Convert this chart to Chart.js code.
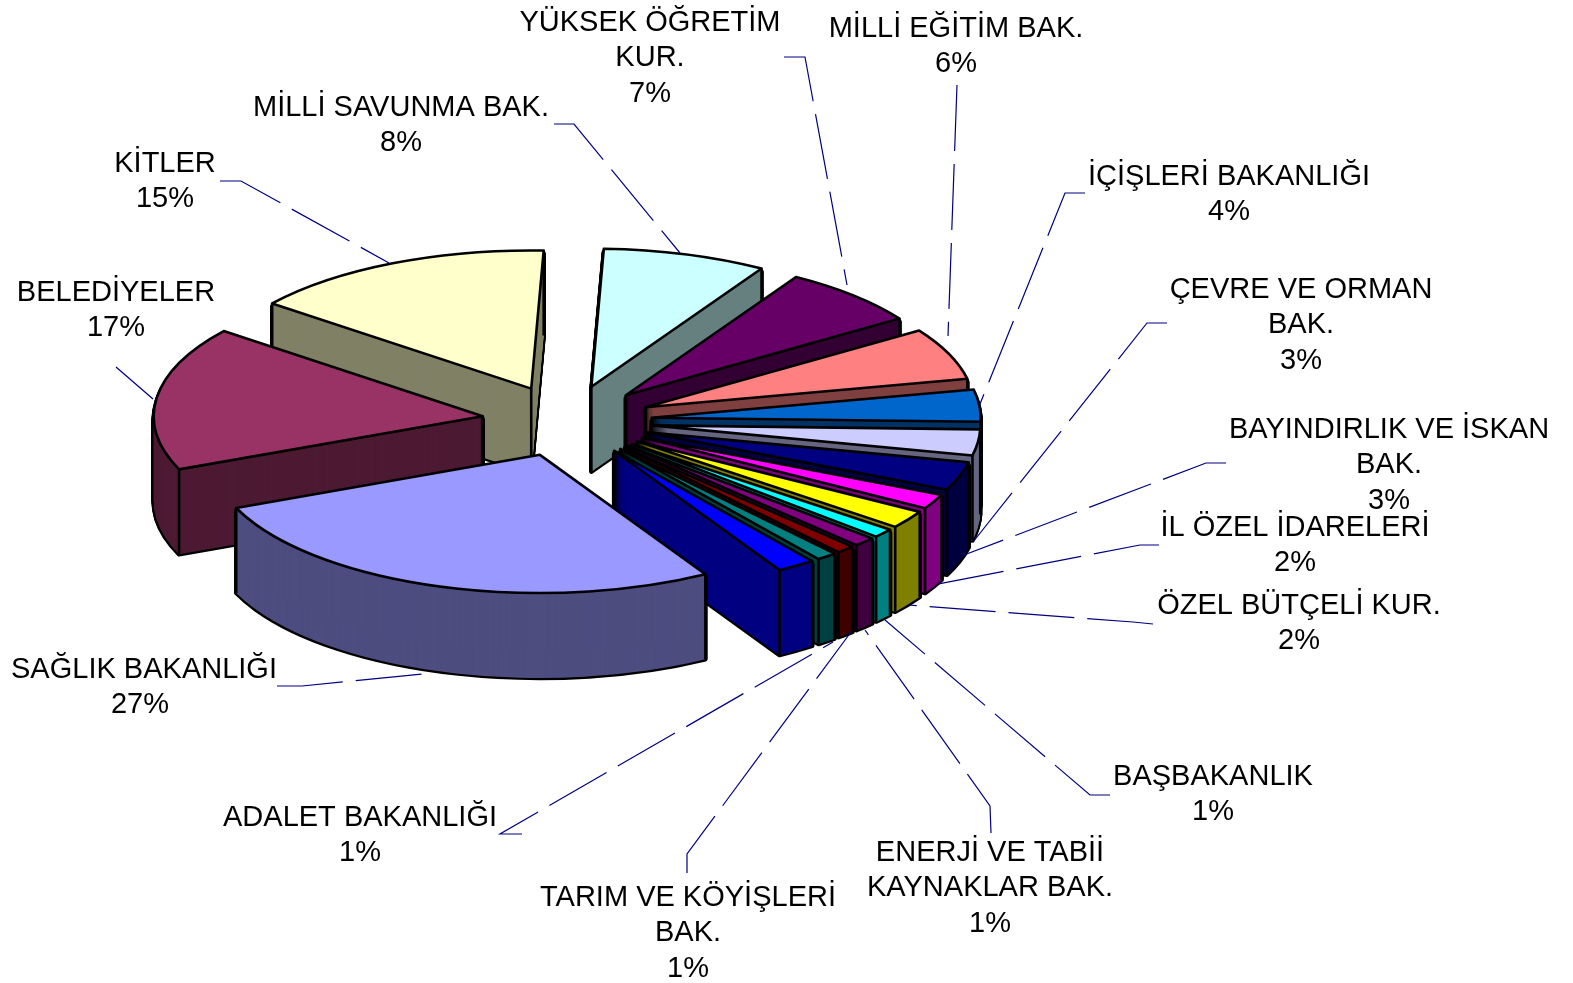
<!DOCTYPE html>
<html>
<head>
<meta charset="utf-8">
<style>
  html, body { margin: 0; background: #fff; }
  canvas { display: block; }
</style>
<script src="https://cdn.jsdelivr.net/npm/chart.js@4"></script>
</head>
<body>
<canvas id="pasta" width="1573" height="983"></canvas>
<script>
// dilimler, saat yonunde SAGLIK'tan baslayarak
const categories = [
  ['SAĞLIK BAKANLIĞI'], ['BELEDİYELER'], ['KİTLER'], ['MİLLİ SAVUNMA BAK.'],
  ['YÜKSEK ÖĞRETİM', 'KUR.'], ['MİLLİ EĞİTİM BAK.'], ['İÇİŞLERİ BAKANLIĞI'],
  ['ÇEVRE VE ORMAN', 'BAK.'], ['BAYINDIRLIK VE İSKAN', 'BAK.'], ['İL ÖZEL İDARELERİ'],
  ['ÖZEL BÜTÇELİ KUR.'], ['BAŞBAKANLIK'], ['ENERJİ VE TABİİ', 'KAYNAKLAR BAK.'],
  ['TARIM VE KÖYİŞLERİ', 'BAK.'], ['ADALET BAKANLIĞI'], []
];
const values = [27.1, 16.85, 15.03, 8.05, 6.99, 6.06, 3.75, 3.03, 3.33, 1.72, 2.1, 1.05, 1.1, 0.92, 1.0, 1.9];

const topColors = ['#9999FF', '#993366', '#FFFFCC', '#CCFFFF', '#660066', '#FF8080', '#0066CC', '#CCCCFF',
  '#000080', '#FF00FF', '#FFFF00', '#00FFFF', '#800080', '#800000', '#008080', '#0000FF'];
const wallColors = ['#4D4D80', '#4D1A33', '#808066', '#668080', '#330033', '#804040', '#003366', '#666680',
  '#000040', '#800080', '#808000', '#008080', '#400040', '#400000', '#004040', '#000080'];

// etiket yerleri: orta x, ilk satir tabani, yuzde satiri kaymasi
const labelPos = [[144, 678, -4], [116, 301, 0], [165, 172, 0], [401, 116, 0], [650, 31, 0], [956, 37, 0], [1229, 185, 0],
  [1301, 298, 0], [1389, 438, 0], [1295, 536, 0], [1299, 614, 0], [1213, 785, 0], [990, 861, 0], [688, 906, 0], [360, 826, 0]];
// kilavuz cizgiler
const leaders = [
  [[277, 686], [302, 686], [432, 673]],
  [[116, 367], [153, 399]],
  [[220, 181], [241, 181], [389, 263]],
  [[554, 124], [574, 124], [680, 253]],
  [[784, 57], [805, 57], [847, 285]],
  [[957, 85], [948, 336]],
  [[1085, 193], [1065, 193], [980, 404]],
  [[1167, 323], [1147, 323], [973, 542]],
  [[1226, 463], [1206, 463], [964, 555]],
  [[1159, 545], [1140, 545], [938, 584]],
  [[1153, 624], [1133, 622], [908, 605]],
  [[1110, 795], [1090, 795], [885, 620]],
  [[991, 833], [990, 806], [865, 630]],
  [[687, 873], [687, 854], [851, 632]],
  [[522, 834], [500, 834], [833, 642]]
];

const squash = 0.42;    // elips orani
const depth = 85;       // dilim yuksekligi
const explode = 85;     // dilimlerin merkezden uzakligi

function slicePath(ctx, arc, dy) {
  const mid = (arc.startAngle + arc.endAngle) / 2;
  const tx = arc.x + Math.cos(mid) * explode;
  const ty = arc.y + Math.sin(mid) * explode * squash + dy;
  ctx.beginPath();
  ctx.moveTo(tx, ty);
  ctx.ellipse(tx, ty, arc.outerRadius, arc.outerRadius * squash, 0, arc.startAngle, arc.endAngle);
  ctx.closePath();
}

const pie3d = {
  id: 'pie3d',
  beforeDatasetDraw(chart, args) {
    const ctx = chart.ctx;
    const arcs = args.meta.data;
    const order = arcs.map((a, i) => i).sort((p, q) => {
      const mp = (arcs[p].startAngle + arcs[p].endAngle) / 2;
      const mq = (arcs[q].startAngle + arcs[q].endAngle) / 2;
      return Math.sin(mp) - Math.sin(mq);
    });
    ctx.save();
    ctx.lineJoin = 'round';
    order.forEach(i => {
      const arc = arcs[i];
      const s = arc.startAngle;
      const e = arc.endAngle;
      // dis kontur
      ctx.strokeStyle = '#000';
      ctx.lineWidth = 4.4;
      for (let d = depth; d >= 3; d -= 1) { slicePath(ctx, arc, d); ctx.stroke(); }
      ctx.fillStyle = wallColors[i];
      for (let d = depth; d >= 0; d -= 1) { slicePath(ctx, arc, d); ctx.fill(); }
      // dikey kenarlar, sadece gorunenler
      const mid = (s + e) / 2;
      const tx = arc.x + Math.cos(mid) * explode;
      const ty = arc.y + Math.sin(mid) * explode * squash;
      ctx.lineWidth = 2.6;
      const edges = [];
      if (Math.cos(s) < 0 || Math.cos(e) > 0) edges.push([tx, ty]);
      if (Math.sin(s) > 0 || Math.cos(s) < 0) {
        edges.push([tx + Math.cos(s) * arc.outerRadius, ty + Math.sin(s) * arc.outerRadius * squash]);
      }
      if (Math.sin(e) > 0 || Math.cos(e) > 0) {
        edges.push([tx + Math.cos(e) * arc.outerRadius, ty + Math.sin(e) * arc.outerRadius * squash]);
      }
      edges.forEach(p => {
        ctx.beginPath();
        ctx.moveTo(p[0], p[1]);
        ctx.lineTo(p[0], p[1] + depth);
        ctx.stroke();
      });
      // ust yuz
      ctx.save();
      ctx.translate(arc.x, arc.y);
      ctx.scale(1, squash);
      ctx.translate(Math.cos(mid) * explode, Math.sin(mid) * explode);
      ctx.translate(-arc.x, -arc.y);
      arc.draw(ctx);
      ctx.restore();
      slicePath(ctx, arc, 0);
      ctx.stroke();
    });
    ctx.restore();
    return false;
  },
  afterDraw(chart) {
    const ctx = chart.ctx;
    ctx.save();
    ctx.strokeStyle = '#000080';
    ctx.lineWidth = 1.2;
    ctx.setLineDash([66, 13]);
    leaders.forEach(pts => {
      ctx.beginPath();
      pts.forEach((p, i) => i ? ctx.lineTo(p[0], p[1]) : ctx.moveTo(p[0], p[1]));
      ctx.stroke();
    });
    ctx.setLineDash([]);
    ctx.fillStyle = '#000';
    ctx.font = '29px "Liberation Sans"';
    ctx.textAlign = 'center';
    labelPos.forEach((pos, i) => {
      const lines = categories[i];
      lines.forEach((line, k) => ctx.fillText(line, pos[0], pos[1] + k * 35.4));
      ctx.fillText(Math.round(values[i]) + '%', pos[0] + pos[2], pos[1] + lines.length * 35.4);
    });
    ctx.restore();
  }
};

new Chart(document.getElementById('pasta'), {
  type: 'pie',
  data: {
    labels: categories.map(c => c.join(' ')),
    datasets: [{
      data: values,
      backgroundColor: topColors,
      borderWidth: 0,
      hoverOffset: 0
    }]
  },
  options: {
    responsive: false,
    animation: false,
    events: [],
    rotation: 149.8,
    radius: 329,
    layout: { padding: { right: 439, bottom: 141 } },
    plugins: { legend: { display: false }, tooltip: { enabled: false } }
  },
  plugins: [pie3d]
});
</script>
</body>
</html>
